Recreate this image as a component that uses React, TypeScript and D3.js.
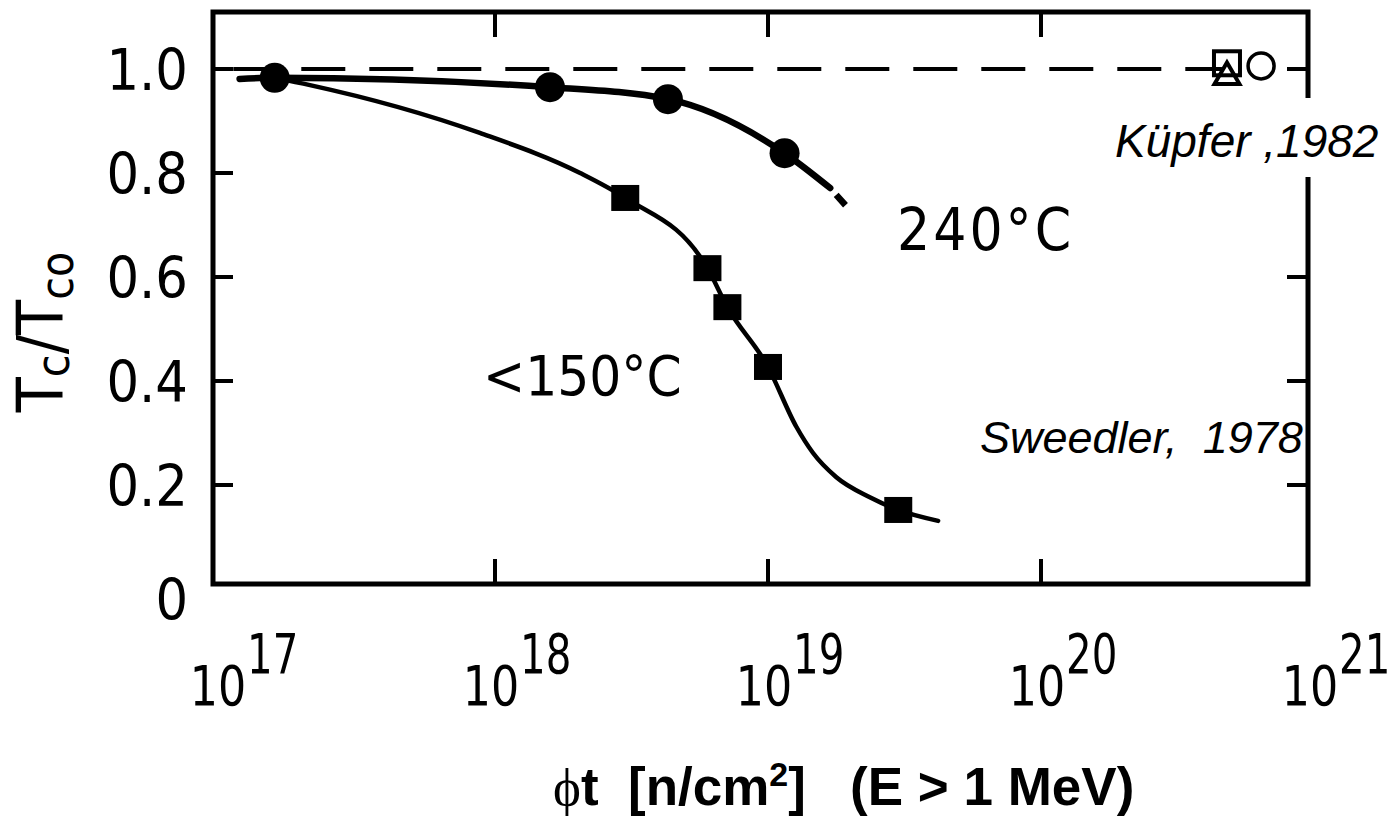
import React from "react";
import * as d3 from "d3";

// measured points (fluence in n/cm^2, Tc/Tco)
const circleFlux = [1.56e17, 1.59e18, 4.3e18, 1.15e19];
const circleTc = [0.983, 0.965, 0.942, 0.838];
const squareFlux = [3.0e18, 6.0e18, 7.1e18, 1.0e19, 3.0e19];
const squareTc = [0.752, 0.617, 0.542, 0.427, 0.152];

// hand drawn guide curves
const hotCurveFlux = [1.16e17, 1.56e17, 1.59e18, 4.3e18, 1.15e19, 1.69e19];
const hotCurveTc = [0.981, 0.983, 0.965, 0.942, 0.838, 0.771];
const hotTailFlux = [1.69e19, 1.96e19];
const hotTailTc = [0.771, 0.733];
const coldCurveFlux = [1.56e17, 2.1e17, 8.8e17, 2.05e18, 3.0e18, 6.0e18, 7.1e18, 1.0e19, 1.27e19, 1.46e19, 1.78e19, 2.35e19, 3.0e19, 4.2e19];
const coldCurveTc = [0.983, 0.969, 0.877, 0.8, 0.752, 0.617, 0.542, 0.427, 0.312, 0.262, 0.215, 0.177, 0.152, 0.131];

// Küpfer 1982 open symbols
const kupferSquare = [4.8e20, 1.011];
const kupferTriangle = [4.8e20, 0.985];
const kupferCircle = [6.4e20, 1.006];

const referenceLine = [1.1e17, 4.6e20];
const yTicks = [0.2, 0.4, 0.6, 0.8, 1.0];
const yTickLabels = ["0", "0.2", "0.4", "0.6", "0.8", "1.0"];
const yLabelValues = [0, 0.2, 0.4, 0.6, 0.8, 1.0];
const xExponents = [17, 18, 19, 20, 21];
const xInnerTicks = [1e18, 1e19, 1e20];

const tickFont = "'DejaVu Sans Condensed', 'DejaVu Sans', sans-serif";

const App: React.FC = () => {
    const width = 1397;
    const height = 817;
    const frame = {left: 213, right: 1308, top: 12, bottom: 584};

    const x = d3.scaleLog().domain([1e17, 1e21]).range([222, 1314]);
    const y = d3.scaleLinear().domain([0, 1]).range([589, 69]);

    const line = d3.line<[number, number]>()
        .x(d => x(d[0]))
        .y(d => y(d[1]))
        .curve(d3.curveMonotoneX);

    const zip = (a: number[], b: number[]) => a.map((v, i) => [v, b[i]] as [number, number]);

    const triangle = d3.symbol().type(d3.symbolTriangle).size(270)();

    return (
        <svg width={width} height={height}
             style={{position: "absolute", left: 0, top: 0, background: "#fff"}}>
            {/* Tc/Tco = 1 reference */}
            <line x1={x(referenceLine[0])} x2={x(referenceLine[1])} y1={y(1)} y2={y(1)}
                  stroke="#000" strokeWidth={4} strokeDasharray="44 24"/>

            {/* frame */}
            <rect x={frame.left} y={frame.top} width={frame.right - frame.left}
                  height={frame.bottom - frame.top} fill="none" stroke="#000" strokeWidth={5}/>

            {yTicks.map(v => (
                <g key={"yt" + v}>
                    <line x1={frame.left} x2={frame.left + 20} y1={y(v)} y2={y(v)} stroke="#000" strokeWidth={4}/>
                    <line x1={frame.right - 21} x2={frame.right} y1={y(v)} y2={y(v)} stroke="#000" strokeWidth={4}/>
                </g>
            ))}
            {xInnerTicks.map(v => (
                <g key={"xt" + v}>
                    <line x1={x(v)} x2={x(v)} y1={frame.top} y2={frame.top + 25} stroke="#000" strokeWidth={4}/>
                    <line x1={x(v)} x2={x(v)} y1={frame.bottom} y2={frame.bottom - 25} stroke="#000" strokeWidth={4}/>
                </g>
            ))}

            {/* y tick labels */}
            {yLabelValues.map((v, i) => (
                <text key={"yl" + v} x={188} y={y(v) + (v === 0 ? 10 : 0)} dy="0.36em" textAnchor="end"
                      fontFamily={tickFont} fontSize={57}>{yTickLabels[i]}</text>
            ))}

            {/* x tick labels, narrow face like the original */}
            {xExponents.map(e => (
                <g key={"xl" + e} fontFamily={tickFont} fontSize={56}>
                    <text transform={`translate(${x(Math.pow(10, e)) - 4},705) scale(0.88,1)`}
                          textAnchor="middle">10</text>
                    <text transform={`translate(${x(Math.pow(10, e)) + 25},673) scale(0.8,1)`}>{e}</text>
                </g>
            ))}

            {/* y axis title */}
            <text transform="translate(63,332) rotate(-90)" textAnchor="middle" fontFamily={tickFont} fontSize={64}>
                T<tspan fontSize={46} dy={6}>c</tspan><tspan dy={-6}>/T</tspan><tspan fontSize={46} dy={10}>co</tspan>
            </text>

            {/* curves */}
            <path d={line(zip(hotCurveFlux, hotCurveTc)) || ""} fill="none" stroke="#000" strokeWidth={6.5}
                  strokeLinecap="round"/>
            <path d={line(zip(hotTailFlux, hotTailTc)) || ""} fill="none" stroke="#000" strokeWidth={6.5}
                  strokeDasharray="0 9 14 100"/>
            <path d={line(zip(coldCurveFlux, coldCurveTc)) || ""} fill="none" stroke="#000" strokeWidth={4.5}
                  strokeLinecap="round"/>

            {circleFlux.map((f, i) => (
                <circle key={"c" + i} cx={x(f)} cy={y(circleTc[i])} r={15} fill="#000"/>
            ))}
            {squareFlux.map((f, i) => (
                <rect key={"s" + i} x={x(f) - 14} y={y(squareTc[i]) - 13} width={28} height={26} fill="#000"/>
            ))}

            {/* Küpfer points */}
            <path d={triangle || ""} transform={`translate(${x(kupferTriangle[0])},${y(kupferTriangle[1])})`}
                  fill="none" stroke="#000" strokeWidth={4}/>
            <rect x={x(kupferSquare[0]) - 13} y={y(kupferSquare[1]) - 12} width={26} height={24}
                  fill="none" stroke="#000" strokeWidth={4}/>
            <circle cx={x(kupferCircle[0])} cy={y(kupferCircle[1])} r={13} fill="none" stroke="#000" strokeWidth={3.5}/>

            {/* curve labels */}
            <text x={897} y={250} fontFamily={tickFont} fontSize={58} letterSpacing={3}>240°C</text>
            <text x={483} y={395} fontFamily={tickFont} fontSize={56}>&lt;150°C</text>

            {/* source notes */}
            <rect x={1105} y={98} width={292} height={79} fill="#fff"/>
            <text x={1115} y={157} fontFamily="'Liberation Sans', Arial, sans-serif" fontStyle="italic"
                  fontSize={46}>Küpfer ,1982</text>
            <text x={980} y={453} fontFamily="'Liberation Sans', Arial, sans-serif" fontStyle="italic"
                  fontSize={45} style={{whiteSpace: "pre"}}>Sweedler,  1978</text>

            {/* x axis title */}
            <text x={553} y={805} fontFamily="'Liberation Sans', Arial, sans-serif" fontWeight="bold"
                  fontSize={53} style={{whiteSpace: "pre"}}>
                <tspan fontFamily="'Liberation Serif', serif" fontWeight="normal">ϕ</tspan>t  [n/cm<tspan
                fontSize={34} dy={-19}>2</tspan><tspan dy={19}>]   (E &gt; 1 MeV)</tspan>
            </text>
        </svg>
    );
};

export default App;
